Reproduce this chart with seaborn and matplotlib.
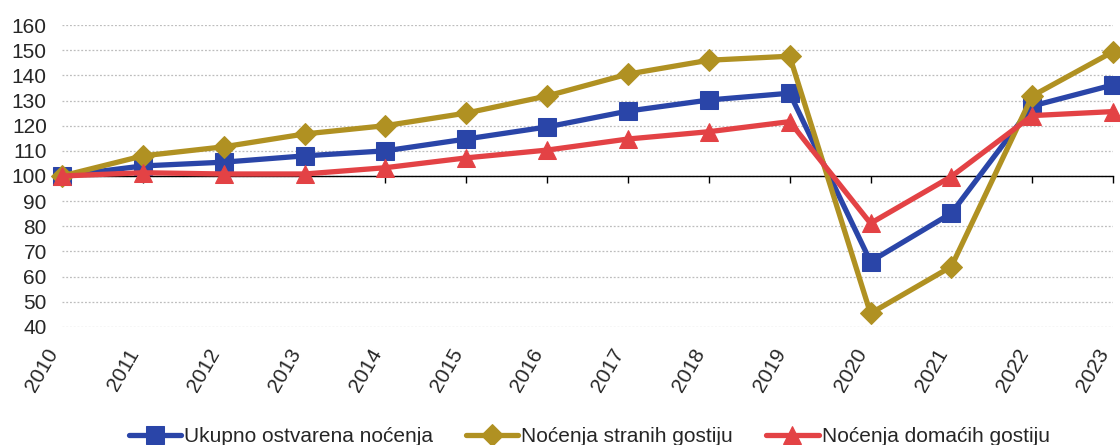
import matplotlib
matplotlib.use("Agg")
import matplotlib.pyplot as plt
import seaborn as sns
import pandas as pd

# index values, 2010 = 100
years = list(range(2010, 2024))
ukupno = [100, 104, 105.5, 108, 110, 114.7, 119.5, 125.8, 130.2, 132.9, 66, 85.2, 127.8, 136.2]
strani = [100, 108, 111.6, 116.7, 120, 125, 131.8, 140.5, 146, 147.6, 45.4, 64, 131.8, 149.4]
domaci = [100, 101.3, 100.8, 100.8, 103.3, 107.2, 110.3, 114.7, 117.6, 121.6, 81.2, 99.8, 124, 125.6]

labels = ["Ukupno ostvarena noćenja", "Noćenja stranih gostiju", "Noćenja domaćih gostiju"]
colors = ["#2A45A8", "#B09122", "#E34245"]
markers = ["s", "D", "^"]
msizes = [13, 11, 13]
yticks = list(range(40, 161, 10))

sns.set_theme(style="white")
plt.rcParams["font.family"] = ["Liberation Sans", "DejaVu Sans"]

fig = plt.figure(figsize=(11.2, 4.45), dpi=100)
ax = fig.add_axes([0.0554, 0.2652, 0.9384, 0.6786])

df = pd.DataFrame({"godina": years, labels[0]: ukupno, labels[1]: strani, labels[2]: domaci})
for lab, c, m, ms in zip(labels, colors, markers, msizes):
    sns.lineplot(data=df, x="godina", y=lab, ax=ax, color=c, marker=m, markersize=ms,
                 markeredgecolor=c, linewidth=3.8, label=lab, clip_on=False, zorder=3)

ax.set_xlim(2010, 2023)
ax.set_ylim(40, 160)
ax.set_yticks(yticks)
ax.set_yticklabels([str(v) for v in yticks], fontsize=15)
ax.yaxis.grid(True, linestyle=(0, (1.5, 1.5)), color="#BDBDBD", linewidth=0.9)
ax.xaxis.grid(False)
ax.set_xlabel("")
ax.set_ylabel("")
for s in ["left", "right", "top"]:
    ax.spines[s].set_visible(False)

# horizontal axis line crosses at 100
ax.spines["bottom"].set_position(("data", 100))
ax.spines["bottom"].set_color("black")
ax.spines["bottom"].set_linewidth(1.0)
ax.spines["bottom"].set_zorder(2)
ax.set_xticks(years)
ax.tick_params(axis="x", bottom=True, length=5, width=1, color="black", direction="out", labelbottom=False)
ax.tick_params(axis="y", left=False, pad=5)

# year labels at the bottom of the plot area
sec = ax.secondary_xaxis(0.0)
sec.set_xticks(years)
sec.set_xticklabels([str(y) for y in years], rotation=60, ha="right", va="top", fontsize=15)
sec.tick_params(length=0, pad=13)
sec.spines["bottom"].set_visible(False)

ax.legend_.remove()
h, l = ax.get_legend_handles_labels()
fig.legend(h, l, loc="lower center", bbox_to_anchor=(0.526, -0.045), ncol=3, frameon=False,
           fontsize=15, handlelength=2.5, handletextpad=0.15, columnspacing=1.6)

plt.savefig("out.png", dpi=100)
